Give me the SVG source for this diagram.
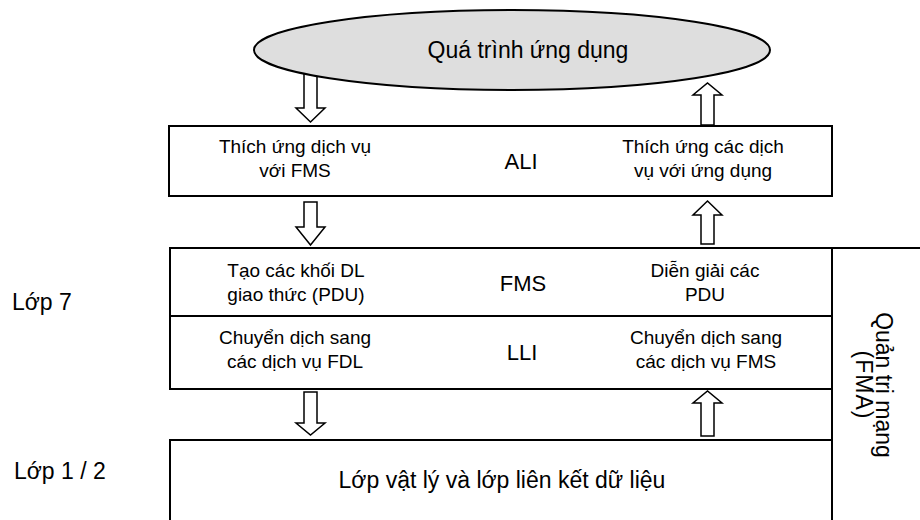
<svg xmlns="http://www.w3.org/2000/svg" width="920" height="520" viewBox="0 0 920 520">
<style>
text{font-family:"Liberation Sans",Arial,sans-serif;font-size:19px;fill:#000;text-anchor:middle}
.mid{font-size:22px}
.lbl{text-anchor:start;font-size:23px}
.big{font-size:23px}
.box{fill:#fff;stroke:#000;stroke-width:2}
.arr{fill:#fff;stroke:#000;stroke-width:1.5;stroke-linejoin:miter}
</style>
<rect width="920" height="520" fill="#fff"/>
<g id="connectors">
<polygon class="arr" points="304,70 317,70 317,108 325,108 310.5,122 296,108 304,108"/>
<polygon class="arr" points="304,202 317,202 317,227 325,227 310.5,245 296,227 304,227"/>
<polygon class="arr" points="304,392 317,392 317,423 325,423 310.5,435 296,423 304,423"/>
<polygon class="arr" points="701,125 714,125 714,95 722,95 707.5,83 693,95 701,95"/>
<polygon class="arr" points="701,244 714,244 714,215 722,215 707.5,201 693,215 701,215"/>
<polygon class="arr" points="701,436 714,436 714,403 722,403 707.5,391 693,403 701,403"/>
</g>
<g id="app">
<ellipse cx="512" cy="50" rx="258" ry="40" fill="#dedede" stroke="#000" stroke-width="2"/>
<text class="big" x="528" y="58">Quá trình ứng dụng</text>
</g>
<g id="ali">
<rect class="box" x="169" y="126" width="663" height="70"/>
<text x="295" y="153">Thích ứng dịch vụ</text>
<text x="295" y="177">với FMS</text>
<text class="mid" x="521" y="169">ALI</text>
<text x="703" y="153">Thích ứng các dịch</text>
<text x="703" y="177">vụ với ứng dụng</text>
</g>
<g id="fms">
<rect class="box" x="170" y="248" width="662" height="68"/>
<text x="296" y="277">Tạo các khối DL</text>
<text x="296" y="301">giao thức (PDU)</text>
<text class="mid" x="523" y="291">FMS</text>
<text x="705" y="277">Diễn giải các</text>
<text x="705" y="301">PDU</text>
</g>
<g id="lli">
<rect class="box" x="170" y="316" width="662" height="73"/>
<text x="295" y="344">Chuyển dịch sang</text>
<text x="295" y="368">các dịch vụ FDL</text>
<text class="mid" x="522" y="360">LLI</text>
<text x="706" y="344">Chuyển dịch sang</text>
<text x="706" y="368">các dịch vụ FMS</text>
</g>
<g id="phy">
<rect class="box" x="170" y="440" width="662" height="95"/>
<text class="big" x="502" y="488">Lớp vật lý và lớp liên kết dữ liệu</text>
</g>
<g id="fma">
<rect class="box" x="832" y="248" width="100" height="290"/>
<g transform="translate(870 385) rotate(90)">
<text class="big" x="0" y="-6">Quản trị mạng</text>
<text class="big" x="0" y="14" style="letter-spacing:1px">(FMA)</text>
</g>
</g>
<g id="layers">
<text class="lbl" x="12" y="310">Lớp 7</text>
<text class="lbl" x="14" y="479">Lớp 1 / 2</text>
</g>
</svg>
